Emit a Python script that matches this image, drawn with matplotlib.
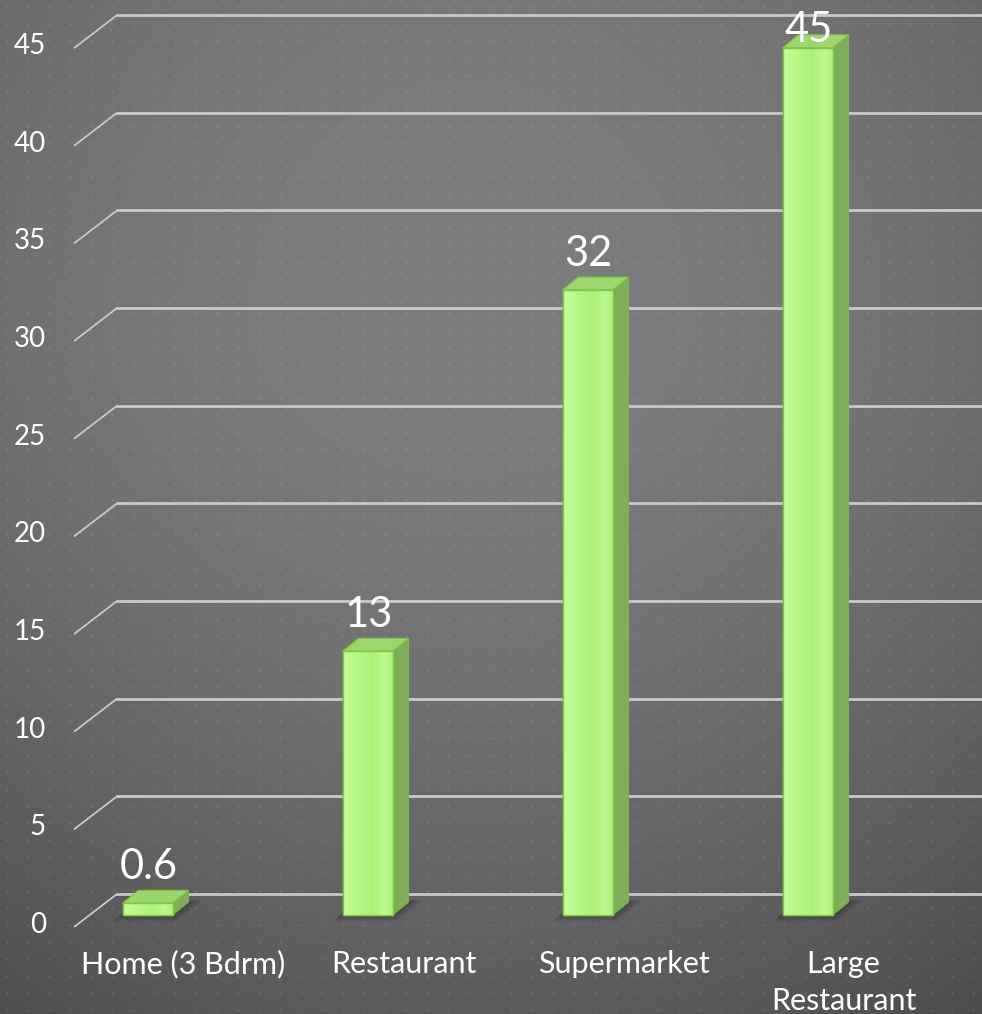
import numpy as np
import matplotlib
matplotlib.use("Agg")
import matplotlib.pyplot as plt
from matplotlib.patches import Polygon
from matplotlib.colors import LinearSegmentedColormap

# ---- data ----
categories = ["Home (3 Bdrm)", "Restaurant", "Supermarket", "Large\nRestaurant"]
values = [0.6, 13.5, 32.0, 44.4]
value_labels = ["0.6", "13", "32", "45"]
y_ticks = [0, 5, 10, 15, 20, 25, 30, 35, 40, 45]

W, H = 982, 1014
plt.rcParams['font.family'] = ['Lato', 'DejaVu Sans']

fig = plt.figure(figsize=(W / 100, H / 100), dpi=100)

# ---- background ----
ax_bg = fig.add_axes([0, 0, 1, 1])
yy, xx = np.mgrid[0:H, 0:W]
cx, cy = 470.0, 330.0
dxn = (xx - cx) / 520.0
down = np.clip(yy - cy, 0, None) / 684.0
up = np.clip(cy - yy, 0, None) / 330.0
val = 125 - 16 * dxn ** 2 - 34 * down ** 1.6 - 5 * up ** 2
val = np.clip(val, 0, 255) / 255.0
ax_bg.imshow(np.dstack([val, val, val]), extent=(0, W, H, 0), aspect='auto', interpolation='bilinear')
dx_dots = np.arange(7, W, 21)
dy_dots = np.arange(7, H, 17)
gx, gy = np.meshgrid(dx_dots, dy_dots)
ax_bg.scatter(gx.ravel(), gy.ravel(), s=2.2, c='white', alpha=0.13, linewidths=0)
ax_bg.set_xlim(0, W)
ax_bg.set_ylim(H, 0)
ax_bg.axis('off')

# ---- main axes ----
ax = fig.add_axes([0, 0, 1, 1])
ax.patch.set_alpha(0)
ax.axis('off')
PXX = 1 / 220.0
PXY = 1 / 19.53
x0_px = 147.5
base_px = 915.0
xlim = (-x0_px * PXX, (W - x0_px) * PXX)
ylim = (-(H - base_px) * PXY, base_px * PXY)

grid_col = '#c9c9c9'
for v in y_ticks:
    xf, xb = (74 - x0_px) * PXX, (117 - x0_px) * PXX
    ax.plot([xf, xb], [v - 12 * PXY, v + 21 * PXY], color=grid_col, lw=1.3, zorder=1,
            solid_capstyle='butt')
    ax.plot([xb, xlim[1] + 1], [v + 21 * PXY, v + 21 * PXY], color=grid_col, lw=2.0, zorder=1)
    ax.text((46 - x0_px) * PXX, v - 10 * PXY, str(v), ha='right', va='center',
            color='white', fontsize=20)

bw = 50 * PXX
ddx, ddy = 16 * PXX, 13 * PXY
xs = np.arange(len(values))

# shadows
for i, h in zip(xs, values):
    xl, xr = i - bw / 2, i + bw / 2
    for k in range(10, 0, -2):
        ex, ey = k * PXX, k * PXY
        poly = Polygon([(xl - ex, -ey * 0.6), (xr + ex * 0.5, -ey * 0.6),
                        (xr + ddx + ex * 1.4, ddy + ey * 0.2), (xl + ddx, ddy + ey * 0.2)],
                       closed=True, facecolor='black', alpha=0.06, lw=0, zorder=2)
        ax.add_patch(poly)

edge = '#7cc644'
bars = ax.bar(xs, values, width=bw, color='#b2f37e', edgecolor=edge, linewidth=1.0, zorder=4)
grad_cmap = LinearSegmentedColormap.from_list(
    'g', [(0, '#c6fe9e'), (0.25, '#b9f889'), (0.6, '#acf078'), (0.85, '#bff892'), (1.0, '#adef7b')])
grad = np.linspace(0, 1, 64).reshape(1, -1)
for i, (b, h) in enumerate(zip(bars, values)):
    xl, xr = i - bw / 2, i + bw / 2
    im = ax.imshow(grad, cmap=grad_cmap, extent=(xl, xr, 0, h), aspect='auto',
                   zorder=4.5, interpolation='bilinear')
    im.set_clip_path(b)
    ax.add_patch(Polygon([(xl, 0), (xr, 0), (xr, h), (xl, h)], closed=True, fill=False,
                         edgecolor=edge, lw=1.0, zorder=5))
    side = Polygon([(xr, 0), (xr + ddx, ddy), (xr + ddx, h + ddy), (xr, h)], closed=True,
                   facecolor='#80ad5c', edgecolor='#78b848', lw=0.8, zorder=3.5)
    ax.add_patch(side)
    top = Polygon([(xl, h), (xr, h), (xr + ddx, h + ddy), (xl + ddx, h + ddy)], closed=True,
                  facecolor='#9dd56f', edgecolor=edge, lw=0.8, zorder=3.6)
    ax.add_patch(top)
    ly = min(h + ddy + 11 * PXY, (base_px - 42) * PXY)
    ax.text(i + 1 * PXX, ly, value_labels[i], ha='center', va='baseline', color='white',
            fontsize=30, zorder=6)

for i, name in enumerate(categories):
    for j, line in enumerate(name.split('\n')):
        ax.text(i + 36 * PXX, (base_px - 973 - 37 * j) * PXY, line, ha='center',
                va='baseline', color='white', fontsize=22, zorder=6)

ax.set_xlim(*xlim)
ax.set_ylim(*ylim)

fig.savefig('out.png', dpi=100)
